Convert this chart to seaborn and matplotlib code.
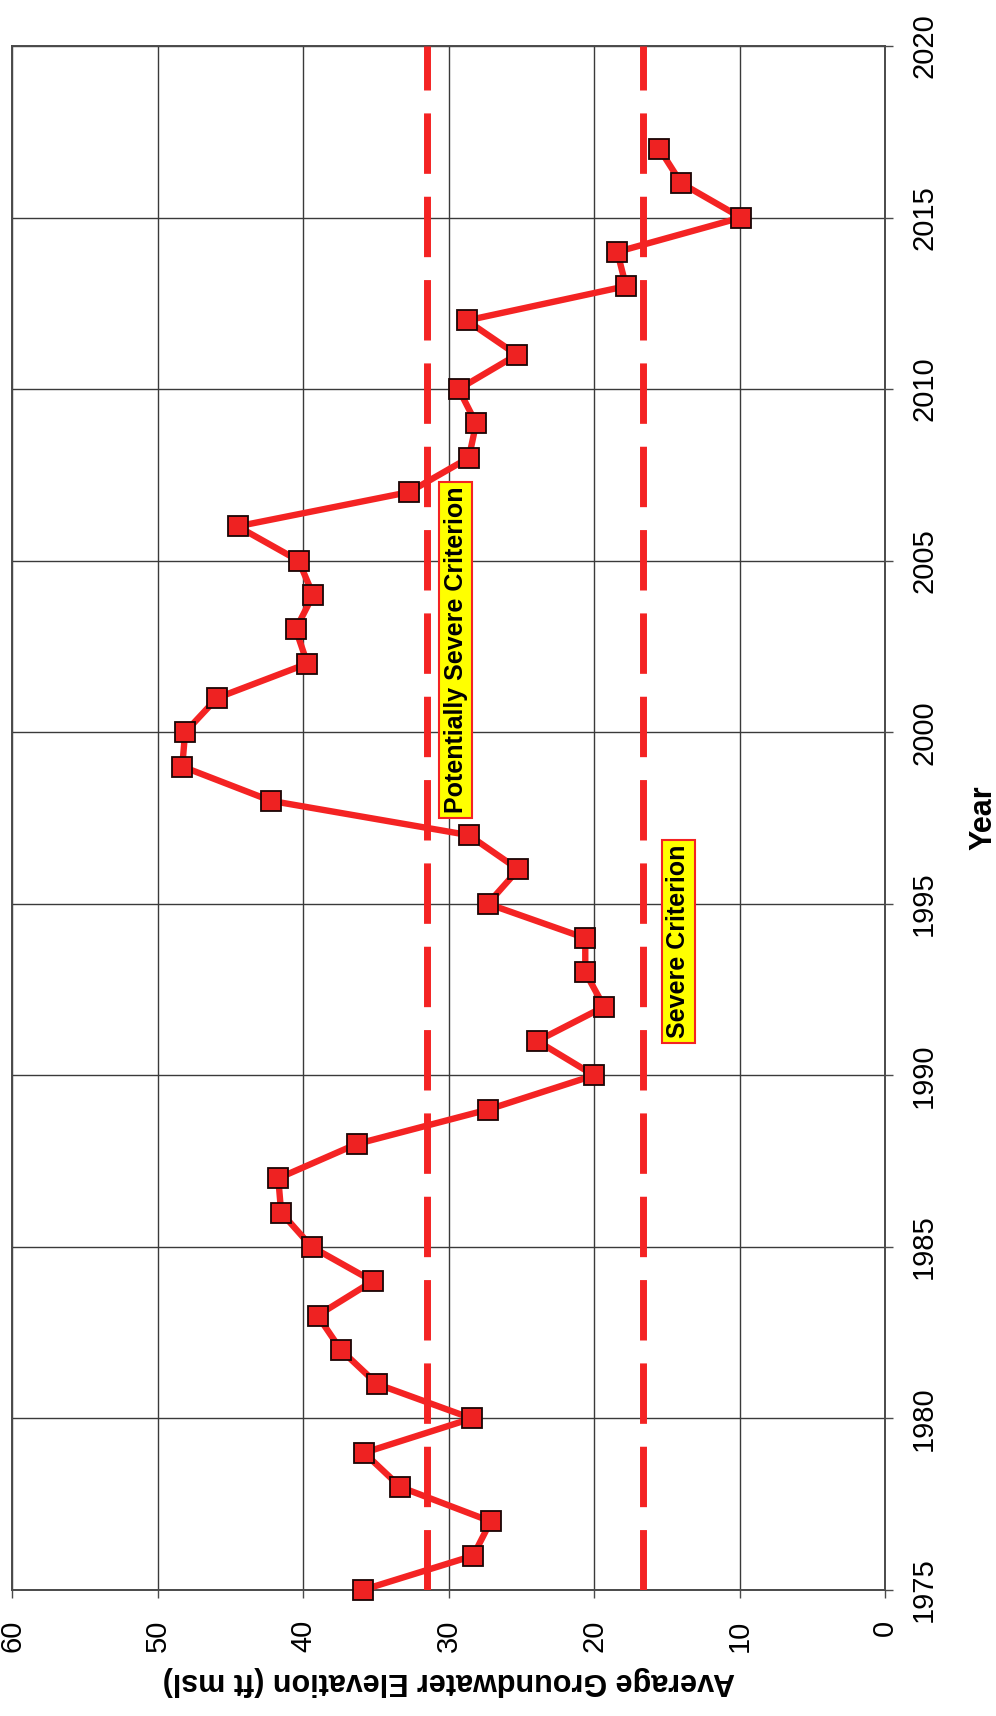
import matplotlib
matplotlib.use("Agg")
import matplotlib.pyplot as plt
import pandas as pd
import seaborn as sns

# ---------------- data ----------------
years = list(range(1975, 2018))
elevation = [35.9, 28.3, 27.1, 33.3, 35.8, 28.4, 34.9, 37.4, 39.0, 35.2,
             39.4, 41.5, 41.7, 36.3, 27.3, 20.0, 23.9, 19.3, 20.6, 20.6,
             27.3, 25.2, 28.6, 42.2, 48.3, 48.1, 45.9, 39.7, 40.5, 39.3,
             40.3, 44.5, 32.7, 28.6, 28.1, 29.3, 25.3, 28.75, 17.8, 18.4,
             9.9, 14.0, 15.5]
criteria_years = [1975, 2020]
potentially_severe = [31.5, 31.5]
severe = [16.6, 16.6]
elev_ticks = [0, 10, 20, 30, 40, 50, 60]
year_ticks = [1975, 1980, 1985, 1990, 1995, 2000, 2005, 2010, 2015, 2020]
elev_label = "Average Groundwater Elevation (ft msl)"
year_label = "Year"
psc_label = "Potentially Severe Criterion"
sev_label = "Severe Criterion"
psc_label_pos = (29.5, 2002.4)
sev_label_pos = (14.2, 1993.9)

# ---------------- style ----------------
sns.set_theme(style="whitegrid")
plt.rcParams["font.family"] = ["Liberation Sans", "DejaVu Sans"]

df = pd.DataFrame({"year": years, "elev": elevation})
crit = pd.DataFrame({"year": criteria_years + criteria_years,
                     "elev": potentially_severe + severe,
                     "kind": ["psc", "psc", "sev", "sev"]})

fig = plt.figure(figsize=(9.96, 17.16), dpi=100)
fig.patch.set_facecolor("white")
ax = fig.add_axes([12 / 996, 126 / 1716, 873 / 996, 1544 / 1716])
ax.set_facecolor("white")

red = "#f42323"
dash = (0, (8.7, 3.3))
for k in ["psc", "sev"]:
    sub = crit[crit["kind"] == k]
    sns.lineplot(data=sub, x="elev", y="year", orient="y", sort=False,
                 estimator=None, color=red, linewidth=5.0, linestyle=dash,
                 ax=ax, zorder=3)

sns.lineplot(data=df, x="elev", y="year", orient="y", sort=False,
             estimator=None, color=red, linewidth=4.6, marker="s",
             markersize=14.5, markerfacecolor="#ee2222",
             markeredgecolor="#1a0505", markeredgewidth=1.3,
             clip_on=False, ax=ax, zorder=4)

ax.set_xlim(60, 0)
ax.set_ylim(1975, 2020)
ax.set_xticks(elev_ticks)
ax.set_yticks(year_ticks)
ax.yaxis.tick_right()
ax.yaxis.set_label_position("right")

ax.grid(True, color="#3a3a3a", linewidth=1.0)
for s in ax.spines.values():
    s.set_visible(True)
    s.set_color("#4a4a4a")
    s.set_linewidth(1.4)

ax.tick_params(axis="x", which="both", bottom=True, length=6, width=1.0,
               color="#4a4a4a", direction="out", pad=15.5, labelsize=21,
               labelrotation=90, labelcolor="black")
ax.tick_params(axis="y", which="both", right=True, left=False, length=6,
               width=1.0, color="#4a4a4a", direction="out", pad=12,
               labelsize=21, labelrotation=90, labelcolor="black")
for lab in ax.get_yticklabels():
    lab.set_va("center")

ax.set_xlabel(elev_label, fontsize=22, fontweight="bold", rotation=180,
              labelpad=10, color="black")
ax.set_ylabel(year_label, fontsize=22, fontweight="bold", rotation=90,
              labelpad=22, color="black")

box = dict(boxstyle="square,pad=0.18", facecolor="#ffff00",
           edgecolor="#f42323", linewidth=1.5)
ax.text(psc_label_pos[0], psc_label_pos[1], psc_label, rotation=90,
        ha="center", va="center", fontsize=18, fontweight="bold",
        color="black", bbox=box, zorder=6)
ax.text(sev_label_pos[0], sev_label_pos[1], sev_label, rotation=90,
        ha="center", va="center", fontsize=18, fontweight="bold",
        color="black", bbox=box, zorder=6)

fig.savefig("out.png", dpi=100, facecolor="white")
